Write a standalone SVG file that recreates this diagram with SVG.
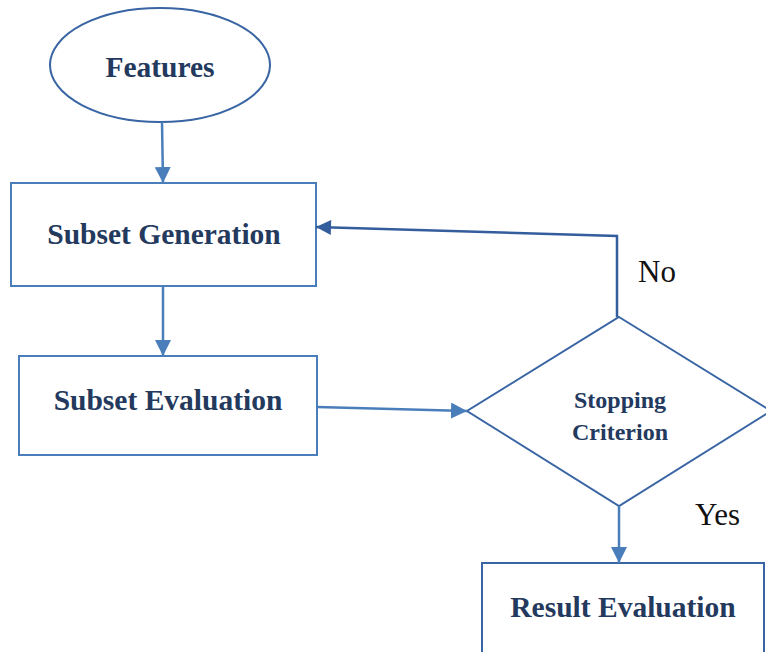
<svg xmlns="http://www.w3.org/2000/svg" width="766" height="652" viewBox="0 0 766 652">
  <style>
    .node { fill: #ffffff; stroke: #4a7ebb; stroke-width: 2; }
    .dark { stroke: #3a65a4; }
    .title { font-family: "Liberation Serif", "Times New Roman", serif; font-weight: bold; fill: #23395d; text-anchor: middle; }
    .lbl { font-family: "Liberation Serif", "Times New Roman", serif; fill: #111111; font-size: 31px; }
    .edge { fill: none; stroke: #4a7ebb; stroke-width: 2.5; }
  </style>
  <defs>
    <marker id="arrow" viewBox="0 0 10 10" refX="10" refY="5" markerWidth="16" markerHeight="16" markerUnits="userSpaceOnUse" orient="auto">
      <path d="M0,0 L10,5 L0,10 z" fill="#4a7ebb"/>
    </marker>
    <marker id="arrowDark" viewBox="0 0 10 10" refX="10" refY="5" markerWidth="16" markerHeight="15" markerUnits="userSpaceOnUse" orient="auto">
      <path d="M0,0 L10,5 L0,10 z" fill="#335d9c"/>
    </marker>
  </defs>

  <g id="features">
    <ellipse class="node dark" cx="160" cy="65" rx="110" ry="57"/>
    <text class="title" x="160" y="77" font-size="29.5">Features</text>
  </g>

  <g id="subset-generation">
    <rect class="node" x="11" y="183" width="305" height="103"/>
    <text class="title" x="164" y="244" font-size="29.5">Subset Generation</text>
  </g>

  <g id="subset-evaluation">
    <rect class="node" x="19" y="356" width="298" height="99"/>
    <text class="title" x="168" y="410" font-size="29.5">Subset Evaluation</text>
  </g>

  <g id="stopping-criterion">
    <polygon class="node dark" points="619,317 771,411 619,506 467,411"/>
    <text class="title" x="620" y="408" font-size="24">Stopping</text>
    <text class="title" x="620" y="440" font-size="24">Criterion</text>
  </g>

  <g id="result-evaluation">
    <rect class="node dark" x="482" y="563" width="282" height="100"/>
    <text class="title" x="623" y="617" font-size="29.5">Result Evaluation</text>
  </g>

  <g id="connectors">
    <line class="edge" x1="162" y1="122" x2="163" y2="183" marker-end="url(#arrow)"/>
    <line class="edge" x1="163" y1="286" x2="163" y2="356" marker-end="url(#arrow)"/>
    <line class="edge" x1="317" y1="407" x2="467" y2="411" marker-end="url(#arrow)"/>
    <polyline class="edge" points="617,317 617,236 316,227" style="stroke:#335d9c" marker-end="url(#arrowDark)"/>
    <line class="edge" x1="619" y1="506" x2="619" y2="563" marker-end="url(#arrow)"/>
    <text class="lbl" x="638" y="282">No</text>
    <text class="lbl" x="695" y="525">Yes</text>
  </g>
</svg>
